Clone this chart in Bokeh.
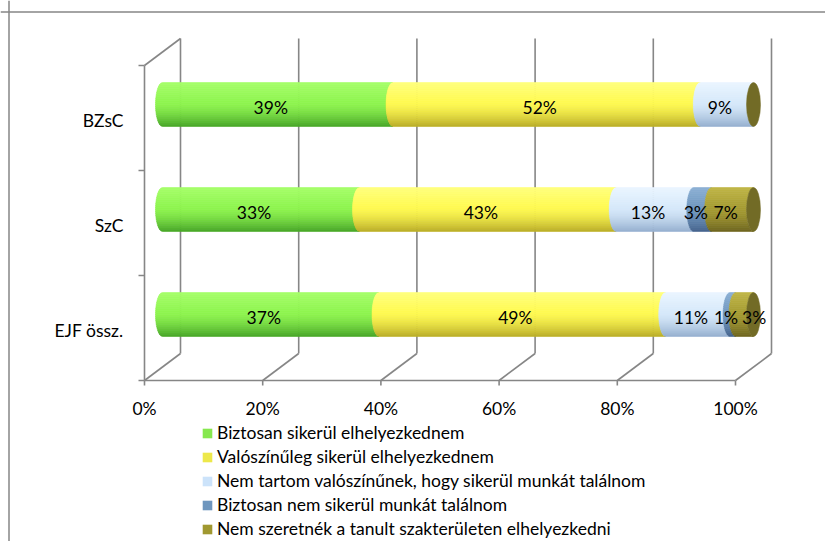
import numpy as np
from bokeh.plotting import figure
from bokeh.models import ColumnDataSource, Legend, LegendItem, Span, Range1d
from bokeh.core.properties import value
from bokeh.embed import file_html
from bokeh.resources import INLINE

# ---------------- data ----------------
categories = ["EJF össz.", "SzC", "BZsC"]          # bottom -> top
series_names = [
    "Biztosan sikerül elhelyezkednem",
    "Valószínűleg sikerül elhelyezkednem",
    "Nem tartom valószínűnek, hogy sikerül munkát találnom",
    "Biztosan nem sikerül munkát találnom",
    "Nem szeretnék a tanult szakterületen elhelyezkedni",
]
biztosan_sikerul = [37, 33, 39]
valoszinuleg_sikerul = [49, 43, 52]
nem_tartom_valoszinunek = [11, 13, 9]
biztosan_nem_sikerul = [1, 3, 0]
nem_szeretnek = [3, 7, 0]
series = [biztosan_sikerul, valoszinuleg_sikerul, nem_tartom_valoszinunek,
          biztosan_nem_sikerul, nem_szeretnek]
x_ticks = [0, 20, 40, 60, 80, 100]
x_tick_labels = ["0%", "20%", "40%", "60%", "80%", "100%"]

# ---------------- styling ----------------
FONT = value("Lato")
FS = "17.5px"
GRID = "#868686"
# (light, base, dark) per series for cylinder shading
stops = [
    ((165, 255, 105), (142, 245, 78), (70, 165, 38)),
    ((255, 255, 125), (255, 250, 80), (185, 172, 38)),
    ((234, 245, 255), (214, 233, 250), (148, 174, 206)),
    ((140, 176, 212), (112, 152, 192), (68, 98, 140)),
    ((192, 182, 70), (166, 156, 50), (108, 100, 30)),
]
legend_colors = ["#86E84E", "#EDE84A", "#CCE3FA", "#6E96BE", "#A09830"]
cap_color = "#726B26"

PXX = 5.91          # px per percent
PXY = 105.0         # px per category
DX = 36 / PXX       # depth offset (x)
DY = 27 / PXY       # depth offset (y)
RX = 7 / PXX        # cylinder end ellipse half-width
RY = 22 / PXY       # cylinder radius

W, H = 825, 541
x0_page, y0_page = 144, 380
p = figure(width=W, height=H, output_backend="svg", toolbar_location=None,
           x_axis_type=None, y_axis_type=None, min_border=0,
           x_range=Range1d((0 - x0_page) / PXX, (W - x0_page) / PXX),
           y_range=Range1d((y0_page - H) / PXY, (y0_page - 0) / PXY),
           background_fill_color="white", border_fill_color="white")
p.outline_line_color = None

# chart area border (top / left)
p.add_layout(Span(location=(y0_page - 11.5) / PXY, dimension="width", line_color=GRID, line_width=1.5))
p.add_layout(Span(location=(8.5 - x0_page) / PXX, dimension="height", line_color=GRID, line_width=1.5))

ncat = len(categories)
# back wall verticals
p.segment(x0=[t + DX for t in x_ticks], y0=[DY] * len(x_ticks),
          x1=[t + DX for t in x_ticks], y1=[ncat + DY] * len(x_ticks),
          line_color=GRID, line_width=1.6)
# floor diagonals
p.segment(x0=x_ticks, y0=[0] * len(x_ticks), x1=[t + DX for t in x_ticks], y1=[DY] * len(x_ticks),
          line_color=GRID, line_width=1.6)
# left wall: axis line + top diagonal + floor front line
p.segment(x0=[0, 0, 0], y0=[0, ncat, 0], x1=[0, DX, x_ticks[-1]], y1=[ncat, ncat + DY, 0],
          line_color=GRID, line_width=1.6)
# tick marks
cat_bounds = list(range(ncat + 1))
p.segment(x0=[0] * len(cat_bounds), y0=cat_bounds, x1=[-6 / PXX] * len(cat_bounds), y1=cat_bounds,
          line_color=GRID, line_width=1.6)
p.segment(x0=x_ticks, y0=[0] * len(x_ticks), x1=x_ticks, y1=[-5 / PXY] * len(x_ticks),
          line_color=GRID, line_width=1.6)


def shade(st, s):
    light, base, dark = st
    if s < 0.45:
        f = s / 0.45
        c = [l + (b - l) * f for l, b in zip(light, base)]
    else:
        f = ((s - 0.45) / 0.55) ** 1.5
        c = [b + (d - b) * f for b, d in zip(base, dark)]
    return "#%02x%02x%02x" % tuple(int(round(v)) for v in c)


N, M = 22, 6
xo = DX / 2
for si in range(len(series)):
    xs, ys, cols = [], [], []
    for ci in range(ncat):
        row = [s[ci] for s in series]
        total = float(sum(row))
        if row[si] == 0:
            continue
        a = sum(row[:si]) / total * 100
        b = a + row[si] / total * 100
        yc = ci + 0.5 + DY / 2
        for j in range(N):
            yt = yc + RY - 2 * RY * j / N
            yb = yc + RY - 2 * RY * (j + 1) / N
            yy = np.linspace(yt, yb, M)
            w = RX * np.sqrt(np.clip(1 - ((yy - yc) / RY) ** 2, 0, 1))
            # visible rim of each cross-section is the left half of its ellipse
            right = b + xo - w
            left = a + xo - w
            xs.append(list(right) + list(left[::-1]))
            ys.append(list(yy) + list(yy[::-1]))
            cols.append(shade(stops[si], (j + 0.5) / N))
    src = ColumnDataSource(dict(xs=xs, ys=ys, color=cols))
    p.patches("xs", "ys", source=src, fill_color="color", line_color="color", line_width=0.6)

# end caps (visible right face of each cylinder)
cap_y = [ci + 0.5 + DY / 2 for ci in range(ncat)]
p.ellipse(x=[100 + xo] * ncat, y=cap_y, width=2 * RX, height=2 * RY,
          fill_color=cap_color, line_color=cap_color, line_width=0.5)

# data labels (with simple overlap avoidance)
lx, ly, lt = [], [], []
for ci in range(ncat):
    row = [s[ci] for s in series]
    total = float(sum(row))
    prev_right = None
    cum = 0
    for si, v in enumerate(row):
        if v == 0:
            continue
        mid = (cum + v / 2) / total * 100
        cum += v
        txt = f"{v}%"
        wpx = (len(txt) - 1) * 10.1 + 14
        cx = x0_page + mid * PXX + 11
        if prev_right is not None and cx - wpx / 2 < prev_right + 4:
            cx = prev_right + 4 + wpx / 2
        prev_right = cx + wpx / 2
        lx.append((cx - x0_page) / PXX)
        ly.append(ci + 0.5 + DY / 2)
        lt.append(txt)
p.text(x=lx, y=ly, text=lt, text_align="center", text_baseline="middle", y_offset=3,
       text_font=FONT, text_font_size=FS, text_color="black")

# category labels
p.text(x=[-21 / PXX] * ncat, y=[ci + 0.5 for ci in range(ncat)], text=categories,
       text_align="right", text_baseline="middle", y_offset=2,
       text_font=FONT, text_font_size=FS, text_color="black")
# x tick labels
p.text(x=x_ticks, y=[0] * len(x_ticks), text=x_tick_labels, text_align="center",
       text_baseline="middle", y_offset=28, text_font=FONT, text_font_size=FS, text_color="black")

# legend
items = []
for name, c in zip(series_names, legend_colors):
    r = p.quad(left=[np.nan], right=[np.nan], top=[np.nan], bottom=[np.nan],
               fill_color=c, line_color=None)
    items.append(LegendItem(label=name, renderers=[r]))
legend = Legend(items=items, location=(201, 2), orientation="vertical",
                glyph_width=12, glyph_height=12, label_standoff=4, label_height=20,
                spacing=3, padding=0, margin=0, border_line_color=None,
                background_fill_alpha=0, label_text_font="Lato",
                label_text_font_size=FS, label_text_color="black")
p.add_layout(legend)

open("out.html", "w").write(file_html(p, INLINE))
